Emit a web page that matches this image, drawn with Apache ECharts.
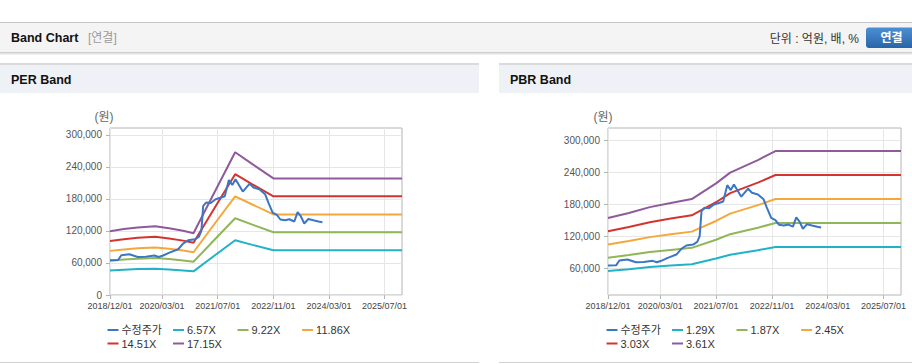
<!DOCTYPE html>
<html><head><meta charset="utf-8">
<script src="https://cdn.jsdelivr.net/npm/echarts@6/dist/echarts.min.js"></script>
<style>html,body{margin:0;padding:0;background:#fff;}#c{width:912px;height:364px;}</style>
</head><body><div id="c"></div><script>
// ---- data ----
const xTickLabels = ['2018/12/01','2020/03/01','2021/07/01','2022/11/01','2024/03/01','2025/07/01'];
const xRange = ['2018/12/01','2025/12/01'];
const perYTicks = [0,60000,120000,180000,240000,300000];
const pbrYTicks = [60000,120000,180000,240000,300000];

const priceName = '수정주가';
const priceDates = ['2018/12/01','2019/02/10','2019/03/10','2019/05/20','2019/08/01','2019/10/10','2019/12/25','2020/02/01','2020/03/10','2020/05/05','2020/07/20','2020/09/01','2020/10/15','2020/12/13','2021/01/18','2021/02/08','2021/02/24','2021/03/22','2021/05/01','2021/06/13','2021/08/01','2021/09/01','2021/10/07','2021/11/06','2021/12/04','2022/02/06','2022/04/07','2022/05/10','2022/07/01','2022/08/20','2022/09/18','2022/10/25','2022/12/01','2023/01/01','2023/02/13','2023/03/20','2023/05/03','2023/06/01','2023/06/28','2023/07/29','2023/09/03','2023/10/16','2023/12/01','2024/01/04'];
const priceValues = [65000,65500,74500,76300,71300,71800,73900,71300,74000,79500,85700,96400,102600,104400,109500,120000,166900,173200,172500,179400,182600,185000,215600,206300,216900,193900,208900,201400,198200,189000,173000,154500,150000,141500,140000,142000,137800,155200,148000,134000,142500,140000,137600,136500];

const perNames = ['6.57X','9.22X','11.86X','14.51X','17.15X'];
const perDates = ['2018/12/01','2019/04/01','2019/08/01','2020/01/01','2020/05/01','2020/09/01','2020/12/01','2021/06/01','2021/12/01','2022/05/01','2022/11/01','2025/12/01'];
const per657  = [45800,47300,48500,49400,48000,46100,44300,73500,102500,94000,83700,83700];
const per922  = [64300,66400,68000,69300,67300,64700,62200,103100,143800,131800,117500,117500];
const per1186 = [82700,85400,87500,89200,86600,83300,80100,132600,185000,169600,151100,151100];
const per1451 = [101100,104500,107100,109100,105900,101900,97900,162200,226400,207500,184900,184900];
const per1715 = [119500,123500,126600,129000,125200,120400,115800,191700,267500,245200,218500,218500];

const pbrNames = ['1.29X','1.87X','2.45X','3.03X','3.61X'];
const pbrDates = ['2018/12/01','2019/06/01','2019/12/01','2020/06/01','2020/12/01','2021/07/01','2021/11/01','2022/07/01','2022/12/01','2025/12/01'];
const pbr129 = [55100,58400,62300,65100,67700,78200,85400,93800,99800,99800];
const pbr187 = [79800,84700,90300,94400,98200,113300,123800,135900,144700,144700];
const pbr245 = [104600,111000,118300,123700,128600,148500,162200,178100,189600,189600];
const pbr303 = [129400,137300,146300,153000,159100,183600,200600,220300,234500,234500];
const pbr361 = [154100,163500,174400,182300,189500,218800,239000,262400,279400,279400];

// ---- styles ----
const FONT = '"Liberation Sans", Arial, "Noto Sans CJK KR", sans-serif';
const colors = ['#3a76c6','#22b2c7','#90b657','#f4a83b','#d3342f','#8f5a9c'];

function ts(s){const p=s.split('/').map(Number);return new Date(p[0],p[1]-1,p[2]).getTime();}
function pairs(d,v){return d.map((x,i)=>[ts(x),v[i]]);}
function fmtDate(v){const d=new Date(v);return d.getFullYear()+'/'+String(d.getMonth()+1).padStart(2,'0')+'/'+String(d.getDate()).padStart(2,'0');}
const xTickValues = xTickLabels.map(ts);

function xAxis(g){return {type:'value',gridIndex:g,min:ts(xRange[0]),max:ts(xRange[1]),
  axisLine:{show:false},
  axisTick:{show:true,customValues:xTickValues,length:4,lineStyle:{color:'#b4b4b4'}},
  axisLabel:{customValues:xTickValues,formatter:v=>fmtDate(v),fontSize:9,color:'#444',margin:6,fontFamily:FONT},
  splitLine:{show:true,lineStyle:{color:'#e6e6e6'}}};}
function yAxis(g,min,max,ticks){return {type:'value',gridIndex:g,min:min,max:max,
  axisLine:{show:false},
  axisTick:{show:true,customValues:ticks,length:4,lineStyle:{color:'#b4b4b4'}},
  axisLabel:{customValues:ticks,fontSize:10,color:'#555',margin:8,fontFamily:FONT,formatter:v=>Number(v).toLocaleString('en-US')},
  splitLine:{show:true,lineStyle:{color:'#e6e6e6'}}};}
function line(name,data,color,g,z){return {type:'line',name:name,xAxisIndex:g,yAxisIndex:g,data:data,
  showSymbol:false,symbol:'none',z:z||2,lineStyle:{width:2,color:color},itemStyle:{color:color},animation:false};}

const perBands=[per657,per922,per1186,per1451,per1715];
const pbrBands=[pbr129,pbr187,pbr245,pbr303,pbr361];
const series=[];
series.push(line(priceName,pairs(priceDates,priceValues),colors[0],0,5));
perNames.forEach((n,i)=>series.push(line(n,pairs(perDates,perBands[i]),colors[i+1],0)));
series.push(line(priceName,pairs(priceDates,priceValues),colors[0],1,5));
pbrNames.forEach((n,i)=>series.push(line(n,pairs(pbrDates,pbrBands[i]),colors[i+1],1)));

// legends (grid-like layout: 4 columns)
const colOff=[0,65.5,130,194.6];
const legends=[];
function addLegends(names,x0){
  names.forEach((n,i)=>{
    const r=Math.floor(i/4),c=i%4;
    legends.push({data:[n],left:x0+colOff[c],top:324.5+r*13.5,padding:0,itemGap:0,
      itemWidth:11,itemHeight:2,icon:'rect',selectedMode:false,
      textStyle:{fontSize:11,color:'#333',fontFamily:FONT,padding:[0,0,0,-2]}});
  });
}
addLegends([priceName].concat(perNames),107.5);
addLegends([priceName].concat(pbrNames),606.5);

function txt(t,x,y,font,fill,align){return {type:'text',silent:true,style:{text:t,x:x,y:y,font:font,fill:fill,textAlign:align||'left',textVerticalAlign:'middle'}};}
function rect(x,y,w,h,fill,r){return {type:'rect',silent:true,shape:{x:x,y:y,width:w,height:h,r:r||0},style:{fill:fill}};}

const graphic=[
  rect(0,22,912,1,'#c6c6c6'),
  rect(0,23,912,29,'#f4f4f4'),
  rect(0,52,912,1,'#cfcfcf'),
  rect(0,53,912,1,'#e4e4e4'),
  rect(0,54,912,1,'#f1f1f1'),
  txt('Band Chart',11,38,'bold 12.5px '+FONT,'#111'),
  txt('[연결]',88,38,'12px '+FONT,'#9a9a9a'),
  txt('단위 : 억원, 배, %',859,38.5,'12px '+FONT,'#333','right'),
  {type:'rect',silent:true,shape:{x:866,y:27.5,width:52,height:20.5,r:3},
    style:{fill:new echarts.graphic.LinearGradient(0,0,0,1,[{offset:0,color:'#4d8fd3'},{offset:1,color:'#2964a8'}])}},
  txt('연결',891.5,38,'bold 12px '+FONT,'#fff','center'),
  rect(0,63,479,2,'#dadada'),
  rect(0,65,479,28,'#eef1f6'),
  txt('PER Band',11,80,'bold 12.5px '+FONT,'#111'),
  rect(499,63,413,2,'#dadada'),
  rect(499,65,413,28,'#eef1f6'),
  txt('PBR Band',510,80,'bold 12.5px '+FONT,'#111'),
  txt('(원)',104,117,'12px '+FONT,'#666','center'),
  txt('(원)',603,117,'12px '+FONT,'#666','center'),
  rect(0,362,479,1,'#d0d0d0'),
  rect(499,362,413,1,'#d0d0d0')
];

const chart=echarts.init(document.getElementById('c'),null,{renderer:'svg'});
chart.setOption({
  animation:false,
  backgroundColor:'#fff',
  grid:[
    {left:110,top:128,width:292,height:167,show:true,borderColor:'#b4b4b4',borderWidth:1},
    {left:608,top:128,width:293,height:167,show:true,borderColor:'#b4b4b4',borderWidth:1}
  ],
  xAxis:[xAxis(0),xAxis(1)],
  yAxis:[yAxis(0,0,313000,perYTicks),yAxis(1,10000,322500,pbrYTicks)],
  legend:legends,
  series:series,
  graphic:graphic
});
</script></body></html>
